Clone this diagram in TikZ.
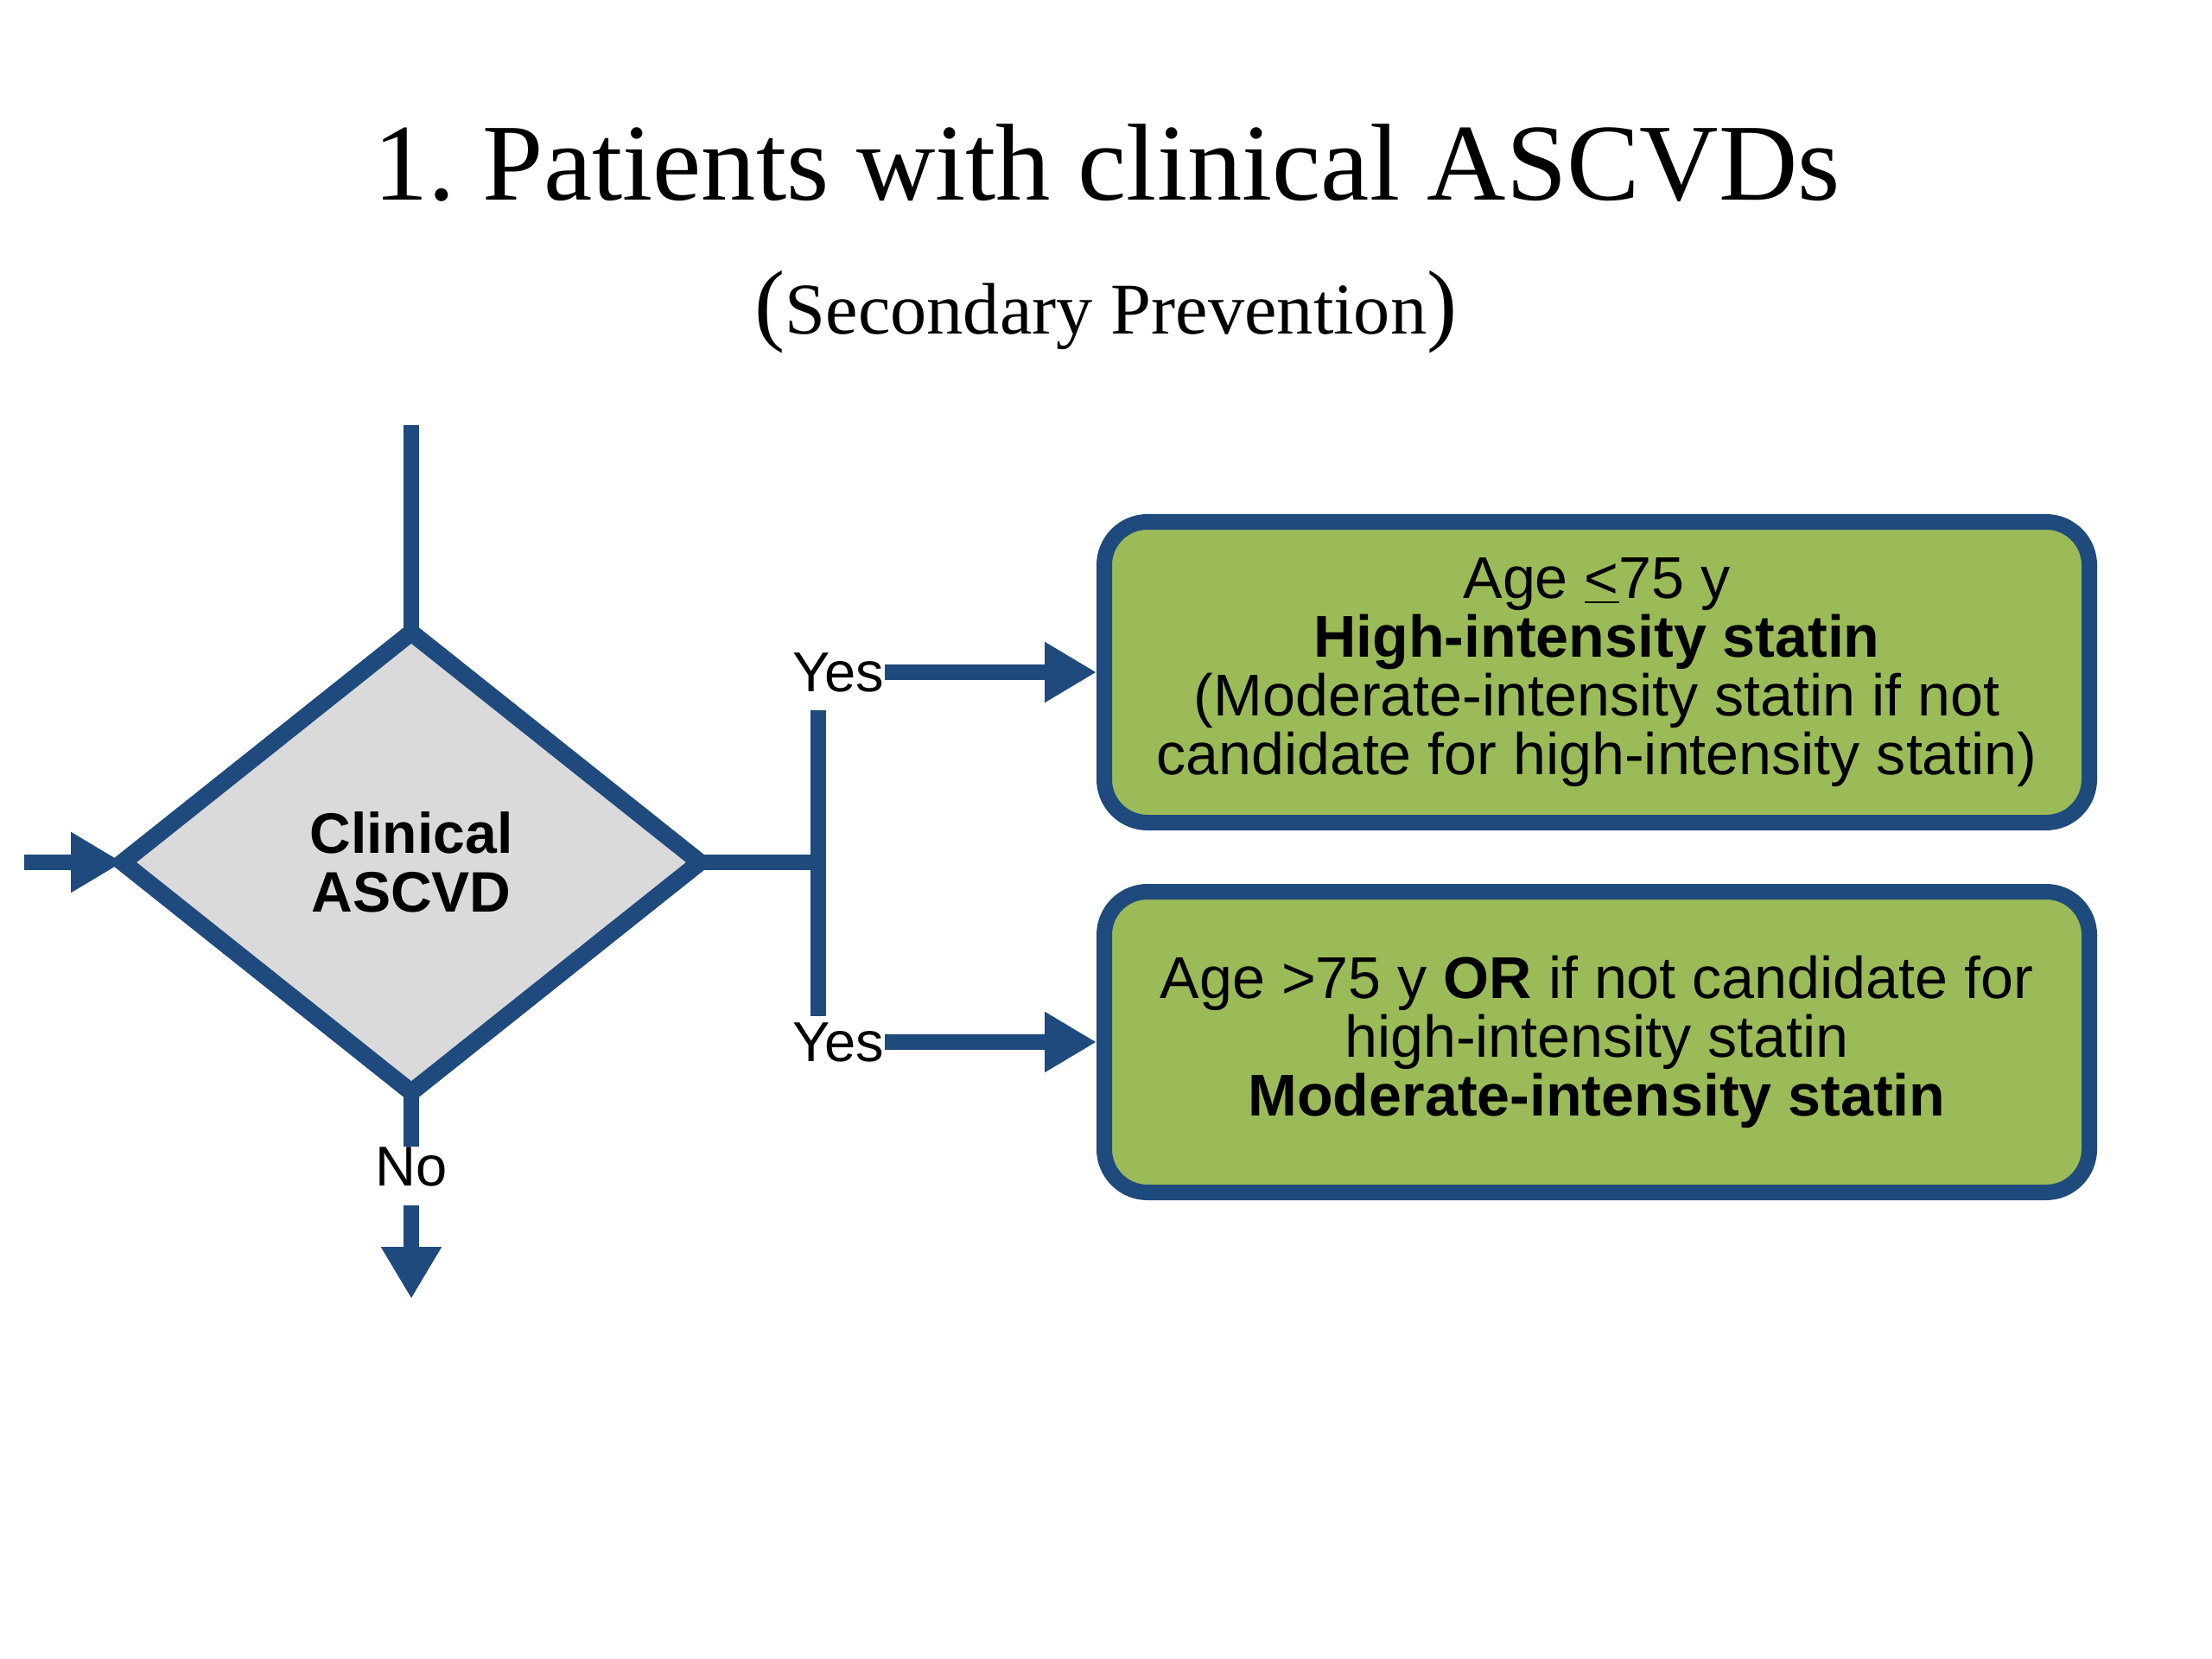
\documentclass[tikz,border=0pt]{standalone}
\usepackage{fontspec}
\setmainfont{Liberation Sans}
\newfontfamily\titlefont{Liberation Serif}
\usetikzlibrary{shapes.geometric,arrows.meta,positioning}
\definecolor{flowblue}{RGB}{31,74,125}
\definecolor{statingreen}{RGB}{155,187,89}
\definecolor{decisiongray}{RGB}{218,218,218}
\frenchspacing

\begin{document}
\begin{tikzpicture}[
    flow/.style={line width=1.8mm, flowblue},
    flowarrow/.style={flow, -{Triangle[length=6mm,width=6.6mm]}},
    decision/.style={diamond, draw=flowblue, line width=2mm, fill=decisiongray,
        minimum width=6.68cm, minimum height=5.32cm, aspect=1.256, inner sep=0pt,
        outer sep=0pt, align=center, font=\fontsize{18.8}{19.5}\selectfont\bfseries},
    statinbox/.style={rectangle, rounded corners=5mm, draw=flowblue, line width=1.8mm,
        fill=statingreen, minimum width=11.4cm, minimum height=3.48cm,
        align=center, font=\fontsize{19.4}{19.4}\selectfont},
    answer/.style={font=\fontsize{18.5}{18.5}\selectfont, inner sep=0pt},
]
\useasboundingbox (0,0) rectangle (25.6,-19.2);

% title
\node[anchor=base, font=\titlefont\fontsize{36}{36}\selectfont] (title) at (12.81,-2.32) {1. Patients with clinical ASCVDs};
\node[anchor=base, font=\titlefont\fontsize{24}{24}\selectfont] (subtitle) at (12.80,-3.87)
    {{\fontsize{30}{30}\selectfont(}Secondary Prevention{\fontsize{30}{30}\selectfont)}};

% decision and outcomes
\node[decision] (ascvd) at (4.76,-9.98) {Clinical\\ASCVD};
\node[statinbox] (highbox) at (18.48,-7.78) {Age \underline{<}75 y\\\textbf{High-intensity statin}\\(Moderate-intensity statin if not\\candidate for high-intensity statin)};
\node[statinbox] (modbox) at (18.48,-12.06) {Age >75 y \textbf{OR} if not candidate for\\high-intensity statin\\\textbf{Moderate-intensity statin}};

\node[answer, left=2.45cm of highbox.west] (yeshigh) {Yes};
\node[answer, left=2.45cm of modbox.west] (yesmod) {Yes};
\node[answer] (no) at (4.76,-13.50) {No};

\coordinate (topin) at (4.76,-4.92);
\coordinate (leftin) at (0.28,-9.98);
\coordinate (split) at (9.47,-9.98);
\coordinate (bartop) at (9.47,-8.22);
\coordinate (barbot) at (9.47,-11.76);
\coordinate (noout) at (4.76,-15.03);

% connectors
\draw[flow] (topin) -- (ascvd.north);
\draw[flowarrow] (leftin) -- (ascvd.west);
\draw[flow] (ascvd.east) -- (split);
\draw[flow] (bartop) -- (barbot);
\draw[flowarrow] (yeshigh.east) -- (highbox.west);
\draw[flowarrow] (yesmod.east) -- (modbox.west);
\draw[flow] (ascvd.south) -- (no.north);
\draw[flowarrow, shorten <=2.2mm] (no.south) -- (noout);
\end{tikzpicture}
\end{document}
